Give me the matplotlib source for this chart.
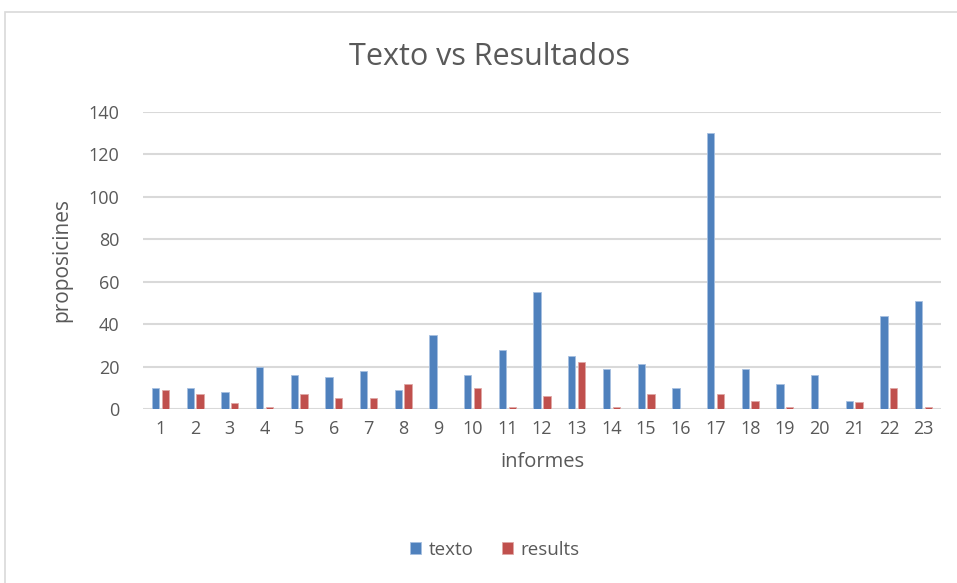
import numpy as np
import matplotlib.pyplot as plt
from matplotlib.patches import Rectangle

plt.rcParams['font.family'] = ['Open Sans', 'DejaVu Sans']

informes = [str(i) for i in range(1, 24)]
texto = [10, 10, 8, 20, 16, 15, 18, 9, 35, 16, 28, 55, 25, 19, 21, 10, 130, 19, 12, 16, 4, 44, 51]
results = [9, 7, 3, 1, 7, 5, 5, 12, 0, 10, 1, 6, 22, 1, 7, 0, 7, 4, 1, 0, 3.5, 10, 1]

fig = plt.figure(figsize=(9.57, 5.83), dpi=100)
fig.patches.append(Rectangle((5 / 957, -0.01), 1, 1 - 12 / 583 + 0.01, transform=fig.transFigure,
                             fill=False, edgecolor='#d9d9d9', linewidth=1.2))
ax = fig.add_axes([143 / 957, 1 - 409 / 583, (941 - 143) / 957, (409 - 112) / 583])

x = np.arange(len(informes))
w = 0.21
ax.bar(x - 0.14, texto, w, color='#4f81bd', edgecolor='#a7c0e0', linewidth=0.6, label='texto', zorder=3)
ax.bar(x + 0.14, results, w, color='#c0504d', edgecolor='#e0a8a6', linewidth=0.6, label='results', zorder=3)

ax.set_xlim(-0.5, len(informes) - 0.5)
ax.set_ylim(0, 140)
ax.set_yticks(range(0, 141, 20))
ax.set_xticks(x)
ax.set_xticklabels(informes)
ax.grid(axis='y', color='#d9d9d9', linewidth=1.5, zorder=0)
for s in ax.spines.values():
    s.set_visible(False)
ax.tick_params(length=0, labelsize=13, labelcolor='#595959', pad=8)
ax.tick_params(axis='y', pad=17)

fig.text(490 / 957, 1 - 57 / 583, 'Texto vs Resultados', fontsize=22, color='#595959',
         ha='center', va='center')
ax.set_xlabel('informes', fontsize=14.5, color='#595959', labelpad=10)
ax.set_ylabel('proposicines', fontsize=15, color='#595959', labelpad=12)

fig.legend(loc='center', bbox_to_anchor=(495 / 957, 1 - 550 / 583), ncol=2, frameon=False,
           fontsize=13.5, labelcolor='#595959', handlelength=0.6, handleheight=0.6,
           handletextpad=0.4, columnspacing=1.5)

plt.savefig('out.png', dpi=100)
